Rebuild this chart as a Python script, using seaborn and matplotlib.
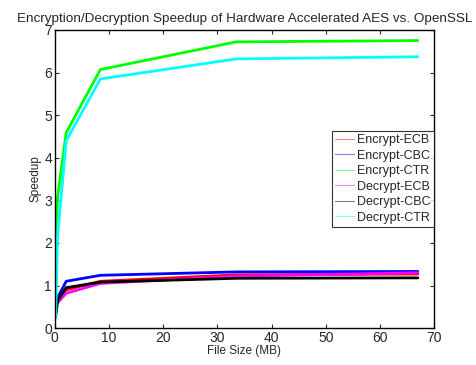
import pandas as pd
import matplotlib.pyplot as plt
import seaborn as sns

# file sizes (MB)
sizes = [0.13, 0.52, 2.1, 8.4, 33.5, 67]

enc_ecb = [0.60, 0.65, 0.90, 1.10, 1.25, 1.27]
enc_cbc = [0.60, 0.72, 1.10, 1.24, 1.32, 1.33]
enc_ctr = [2.20, 3.10, 4.59, 6.07, 6.72, 6.75]
dec_ecb = [0.55, 0.60, 0.82, 1.05, 1.22, 1.30]
dec_cbc = [0.25, 0.65, 0.95, 1.08, 1.17, 1.18]
dec_ctr = [0.25, 2.20, 4.40, 5.85, 6.32, 6.37]

names = ["Encrypt-ECB", "Encrypt-CBC", "Encrypt-CTR",
         "Decrypt-ECB", "Decrypt-CBC", "Decrypt-CTR"]
colors = ["#ff0000", "#0000ff", "#00ff00", "#ff00ff", "#000000", "#00ffff"]

rows = []
for name, vals in zip(names, [enc_ecb, enc_cbc, enc_ctr, dec_ecb, dec_cbc, dec_ctr]):
    for s, v in zip(sizes, vals):
        rows.append({"size": s, "speedup": v, "mode": name})
df = pd.DataFrame(rows)

sns.set_style("white")
plt.rcParams['font.family'] = ['Liberation Sans', 'DejaVu Sans']

fig = plt.figure(figsize=(4.77, 3.65), dpi=100)
ax = fig.add_axes([0.115, 0.101, 0.795, 0.817])

sns.lineplot(data=df, x="size", y="speedup", hue="mode", hue_order=names,
             palette=colors, linewidth=2, ax=ax, legend=False)

ax.set_xlim(0, 70)
ax.set_ylim(0, 7)
ax.set_xticks(range(0, 71, 10))
ax.set_yticks(range(0, 8))
ax.tick_params(direction="in", length=3, labelsize=10, top=True, right=True,
               bottom=True, left=True, width=0.8, pad=2)
for sp in ax.spines.values():
    sp.set_color("black")
    sp.set_linewidth(1.0)
ax.set_xlabel("File Size (MB)", fontsize=8.5, labelpad=0)
ax.set_ylabel("Speedup", fontsize=8.5, labelpad=2)
ax.set_title("Encryption/Decryption Speedup of Hardware Accelerated AES vs. OpenSSL",
             fontsize=9.7, pad=6)

handles = [plt.Line2D([], [], color=c, linewidth=0.8, alpha=0.5) for c in colors]
leg = ax.legend(handles, names, loc="center right", fontsize=9, frameon=True,
                fancybox=False, borderaxespad=0, handlelength=1.5,
                handletextpad=0.25, labelspacing=0.28, borderpad=0.25)
leg.get_frame().set_edgecolor("black")
leg.get_frame().set_linewidth(0.8)

fig.savefig("out.png", dpi=100)
